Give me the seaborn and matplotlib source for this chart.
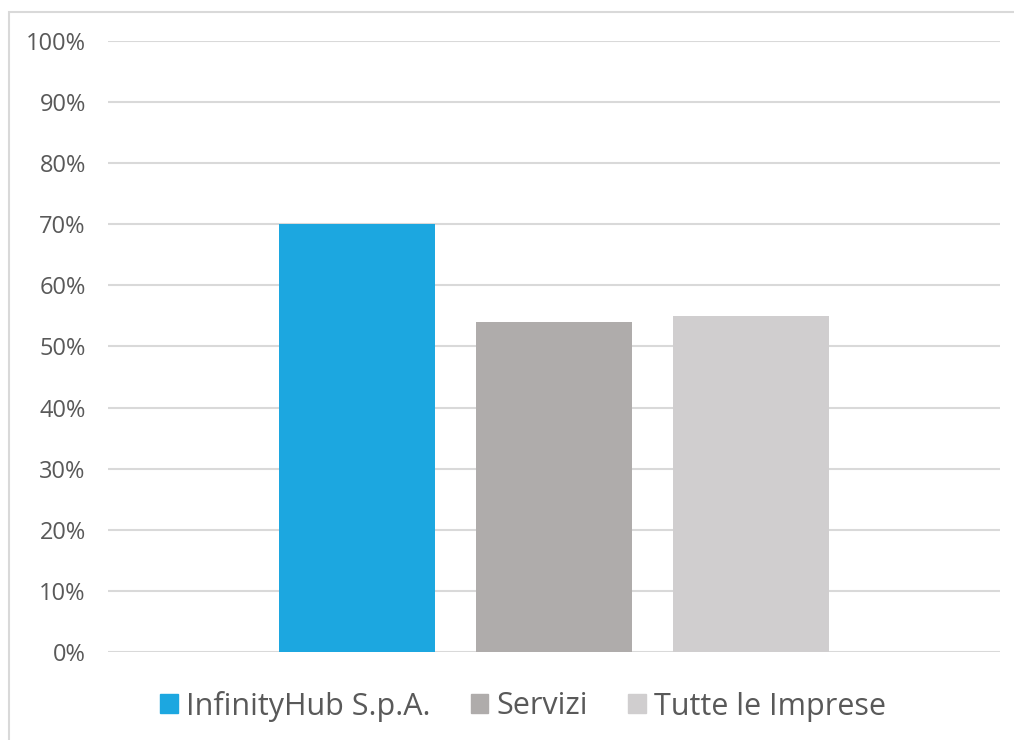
import pandas as pd
import matplotlib.pyplot as plt
import matplotlib.patches as mpatches
from matplotlib.ticker import PercentFormatter, MultipleLocator
import seaborn as sns

# data
series = ['InfinityHub S.p.A.', 'Servizi', 'Tutte le Imprese']
values = [0.70, 0.54, 0.55]
colors = ['#1CA7E0', '#AFACAB', '#D0CECF']

df = pd.DataFrame({'cat': [''] * len(series), 'serie': series, 'valore': values})

sns.set_style('white')
plt.rcParams['font.family'] = ['Open Sans', 'DejaVu Sans']
text_col = '#595959'

fig = plt.figure(figsize=(10.14, 7.40), dpi=100)
ax = fig.add_axes([108 / 1014, 1 - 652 / 740, 892 / 1014, 611 / 740])

sns.barplot(data=df, x='cat', y='valore', hue='serie', hue_order=series,
            palette=colors, width=0.664, gap=0.21, saturation=1,
            linewidth=0, legend=False, ax=ax)

ax.set_xlim(-0.5, 0.5)
ax.set_ylim(0, 1)
ax.yaxis.set_major_locator(MultipleLocator(0.1))
ax.yaxis.set_major_formatter(PercentFormatter(1.0, decimals=0))
ax.grid(axis='y', color='#D9D9D9', linewidth=1.5)
ax.set_axisbelow(True)
for s in ax.spines.values():
    s.set_visible(False)
ax.set_xlabel('')
ax.set_ylabel('')
ax.set_xticks([])
ax.tick_params(axis='y', length=0, pad=16, labelsize=17, labelcolor=text_col)

handles = [mpatches.Patch(color=c, label=l) for c, l in zip(colors, series)]
fig.legend(handles=handles, loc='center', bbox_to_anchor=(523 / 1014, 1 - 706 / 740),
           ncol=3, frameon=False, fontsize=22, labelcolor=text_col,
           handlelength=0.56, handleheight=0.56, handletextpad=0.26,
           columnspacing=1.34, borderpad=0)

# outer frame
fig.patches.append(mpatches.Rectangle((9 / 1014, -0.05), 1.1, 1 - 12 / 740 + 0.05,
                                      transform=fig.transFigure, fill=False,
                                      edgecolor='#D9D9D9', linewidth=1.5))

fig.savefig('out.png', dpi=100)
